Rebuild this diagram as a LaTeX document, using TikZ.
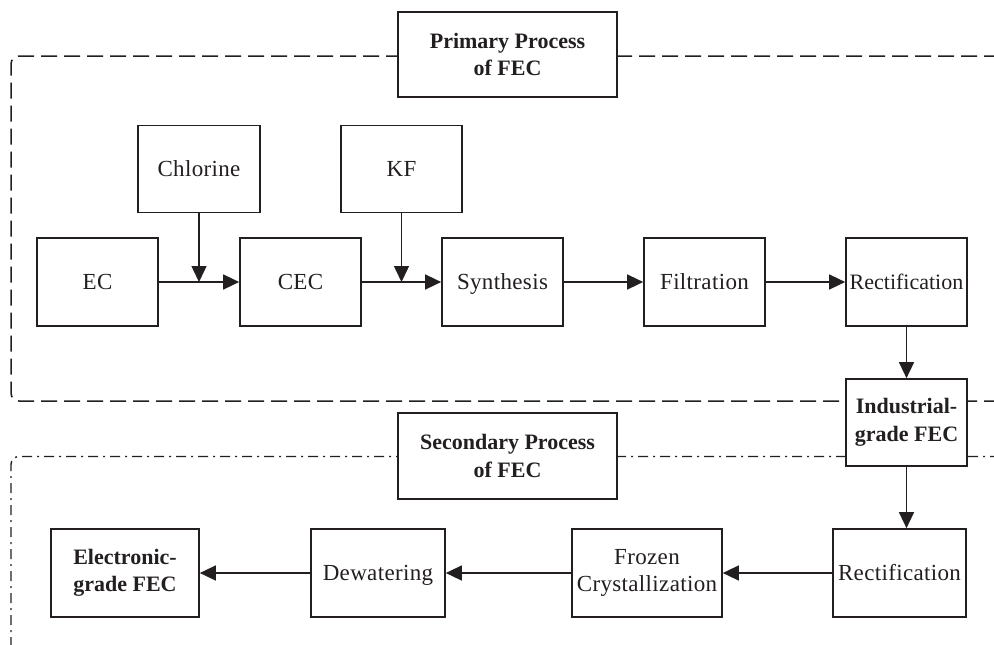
\documentclass[tikz,border=0pt]{standalone}
\usepackage{fontspec}
\setmainfont{Liberation Serif}
\newfontfamily\spacedserif[LetterSpace=1.5]{Liberation Serif}
\usetikzlibrary{arrows.meta}
\definecolor{ink}{RGB}{35,31,32}
\begin{document}
\begin{tikzpicture}[x=1pt,y=-1pt,
  every node/.style={font=\spacedserif\fontsize{23}{27}\selectfont, text=ink},
  procbox/.style={draw=ink, line width=1.7pt, fill=white, inner sep=0pt,
    align=center, minimum width=121pt, minimum height=88pt},
  oneline/.style={text height=15.5pt, text depth=0pt},
  tightlabel/.style={font=\rmfamily\fontsize{22}{27}\selectfont},
  boldbox/.style={procbox, font=\rmfamily\fontsize{22}{27.5}\selectfont\bfseries},
  flow/.style={draw=ink, line width=1.5pt, -{Triangle[length=16pt,width=15pt]}},
  zoneA/.style={draw=ink, line width=1.5pt, dash pattern=on 16pt off 7pt, rounded corners=8pt},
  zoneB/.style={draw=ink, line width=1.4pt, dash pattern=on 10pt off 5pt on 2pt off 5pt, rounded corners=8pt}]
\useasboundingbox (0,0) rectangle (994,645);
\clip (0,0) rectangle (994,645);
\fill[white] (0,0) rectangle (994,645);

% process zones
\draw[zoneA] (1000,56) -- (11,56) -- (11,401) -- (1000,401);
\draw[zoneB] (1000,456.5) -- (11,456.5) -- (11,660);

% zone titles
\node[boldbox, minimum width=219pt, minimum height=85pt] (t1) at (507.5,54.5) {Primary Process\\of FEC};
\node[boldbox, minimum width=219pt, minimum height=86pt] (t2) at (507.5,456) {Secondary Process\\of FEC};

% primary line
\node[procbox, oneline, minimum width=122pt, minimum height=87pt] (chl) at (199,169) {Chlorine};
\node[procbox, oneline, minimum height=87pt] (kf) at (401.5,169) {KF};
\node[procbox, oneline] (ec) at (97.5,282) {EC};
\node[procbox, oneline] (cec) at (300.5,282) {CEC};
\node[procbox, oneline] (syn) at (502.5,282) {Synthesis};
\node[procbox, oneline] (fil) at (704.5,282) {Filtration};
\node[procbox, oneline, tightlabel] (rec1) at (906.5,282) {Rectification};
\node[boldbox, minimum height=87pt] (ind) at (906.5,422.5) {Industrial-\\grade FEC};

% secondary line
\node[boldbox, minimum width=148pt] (egf) at (125,573) {Electronic-\\grade FEC};
\node[procbox, oneline, minimum width=134pt] (dew) at (378,573) {Dewatering};
\node[procbox, minimum width=150pt] (frz) at (647,573) {Frozen\\Crystallization};
\node[procbox, oneline, minimum width=133pt] (rec2) at (899.5,573) {Rectification};

\coordinate (j1) at (chl.south |- ec.east);
\coordinate (j2) at (kf.south |- ec.east);

% connectors
\draw[flow] (ec) -- (cec);
\draw[flow] (chl.south) -- (j1);
\draw[flow] (cec) -- (syn);
\draw[flow] (kf.south) -- (j2);
\draw[flow] (syn) -- (fil);
\draw[flow] (fil) -- (rec1);
\draw[flow] (rec1) -- (ind);
\draw[flow] (ind.south) -- (ind.south |- rec2.north);
\draw[flow] (rec2) -- (frz);
\draw[flow] (frz) -- (dew);
\draw[flow] (dew) -- (egf);
\end{tikzpicture}
\end{document}
